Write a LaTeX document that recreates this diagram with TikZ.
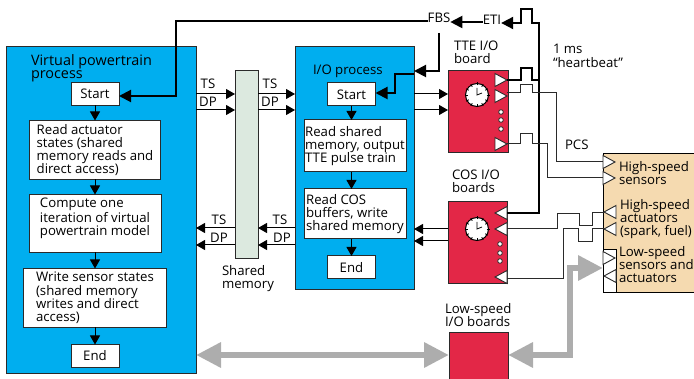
\documentclass[tikz,border=0pt]{standalone}
\usepackage{fontspec}
\setmainfont{Open Sans}
\usetikzlibrary{positioning,arrows.meta,shapes.geometric}
\definecolor{panelblue}{HTML}{00AEEF}
\definecolor{boardred}{HTML}{E32747}
\definecolor{tan}{HTML}{F5DAB0}
\definecolor{memgreen}{HTML}{DCE9DF}
\definecolor{busgray}{HTML}{ADADAD}
\definecolor{edge}{HTML}{2A2A2A}

\begin{document}
\begin{tikzpicture}[x=1pt,y=-1pt,font=\fontsize{13.2}{13.2}\selectfont,
panel/.style={rectangle, draw=edge, fill=panelblue, line width=0.9pt, inner sep=0pt, outer sep=0pt},
procbox/.style={rectangle, draw=edge, fill=white, line width=1pt, inner sep=0pt, outer sep=0pt, align=left},
endbox/.style={procbox, align=center, minimum height=23pt, minimum width=48pt},
board/.style={rectangle, draw=edge, fill=boardred, line width=0.9pt, inner sep=0pt, outer sep=0pt},
lbl/.style={inner sep=0pt, outer sep=0pt, align=left, anchor=north west},
tag/.style={inner sep=0pt, outer sep=0pt},
port/.style={isosceles triangle, isosceles triangle apex angle=60, isosceles triangle stretches, draw=edge, fill=white, line width=0.9pt, minimum height=12pt, minimum width=13pt, inner sep=0pt, outer sep=0pt},
portr/.style={port, shape border rotate=0},
portl/.style={port, shape border rotate=180},
arr/.style={-{Triangle[length=9pt,width=10pt]}, line width=1pt, draw=black},
thickarr/.style={-{Triangle[length=12pt,width=12pt]}, line width=2pt, draw=black},
wire/.style={line width=0.9pt, draw=edge},
thickwire/.style={line width=2pt, draw=black},
bus/.style={{Triangle[length=25pt,width=24pt]}-{Triangle[length=25pt,width=24pt]}, line width=6.5pt, draw=busgray},
clockface/.pic={
  \draw[draw=black, fill=white, line width=1pt] (0,0) circle (11.5);
  \foreach \a in {0,30,...,330} \draw[line width=0.8pt] (\a:9.5) -- (\a:12.5);
  \draw[line width=0.8pt] (0,-7) -- (0,0) -- (5,-2);
},
]
\useasboundingbox (0,0) rectangle (694,379);

%Levels of the TS and DP lines
\coordinate (tstop) at (0,94);
\coordinate (dptop) at (0,110);
\coordinate (tsbot) at (0,228);
\coordinate (dpbot) at (0,245);

%Panels
\node[panel, minimum width=190pt, minimum height=327pt] (vppanel) at (101,209.5) {};
\node[panel, minimum width=119pt, minimum height=243pt] (iopanel) at (354.5,167.5) {};
\node[rectangle, draw=edge, fill=memgreen, line width=1pt, inner sep=0pt, outer sep=0pt, minimum width=23pt, minimum height=188pt] (memory) at (246.5,165) {};
\node[rectangle, draw=black, fill=tan, line width=0.9pt, inner sep=0pt, outer sep=0pt, minimum width=92pt, minimum height=139pt, anchor=north west] (plant) at (603,153) {};
\node[rectangle, draw=black, fill=white, line width=0.9pt, inner sep=0pt, outer sep=0pt, minimum width=13pt, minimum height=43pt, anchor=north west] (lowstrip) at (603,249) {};

%Virtual powertrain process
\node[lbl, font=\fontsize{14.4}{13.4}\selectfont] (vptitle) at (31,54.5) {Virtual powertrain\\process};
\node[endbox] (vpstart) at (95,94) {Start};
\node[procbox, minimum width=131pt, minimum height=59pt] (readact) [below=15pt of vpstart] {Read actuator\\states (shared\\memory reads and\\direct access)};
\node[procbox, minimum width=132pt, minimum height=58pt] (compute) [below=15pt of readact] {Compute one\\iteration of virtual\\powertrain model\\~};
\node[procbox, minimum width=143pt, minimum height=59pt] (writesens) [below=16pt of compute] {Write sensor states\\(shared memory\\writes and direct\\access)};
\node[endbox] (vpend) [below=17pt of writesens] {End};

%I/O process
\node[lbl] (iotitle) at (313,64.5) {I/O process};
\node[endbox] (iostart) at (351.5,94.5) {Start};
\node[procbox, minimum width=102pt, minimum height=52pt, xshift=3.5pt] (readmem) [below=14pt of iostart] {Read shared\\memory, output\\TTE pulse train};
\node[procbox, minimum width=102pt, minimum height=50pt] (readcos) [below=17pt of readmem] {Read COS\\buffers, write\\shared memory};
\node[endbox, xshift=-3.5pt] (ioend) [below=17pt of readcos] {End};

%Boards
\node[board, minimum width=60pt, minimum height=82pt, anchor=north west] (tteboard) at (448,70) {};
\node[board, minimum width=59pt, minimum height=82pt, anchor=north west] (cosboard) at (448,201) {};
\node[board, minimum width=59pt, minimum height=47pt, anchor=north west] (lowboard) at (449,332) {};
\pic at (477,95) {clockface};
\pic at (477,229) {clockface};
\foreach \dy in {112,120,129} \draw[draw=edge, fill=white, line width=0.8pt] (501,\dy) circle (2.3);
\foreach \dy in {244,253,261} \draw[draw=edge, fill=white, line width=0.8pt] (500,\dy) circle (2.3);

%Ports
\node[portr, anchor=apex] (ttea) at (507,80) {};
\node[portr, anchor=apex] (tteb) at (507,96) {};
\node[portr, anchor=apex] (ttec) at (507,144) {};
\node[portl, anchor=apex] (cosa) at (495,213) {};
\node[portl, anchor=apex] (cosb) at (495,229) {};
\node[portl, anchor=apex] (cosc) at (495,277) {};
\node[portr, anchor=apex] (hssa) at (615,162) {};
\node[portr, anchor=apex] (hssb) at (615,178) {};
\node[portl, anchor=apex] (hsaa) at (604,212) {};
\node[portl, anchor=apex] (hsab) at (604,229) {};
\node[portr, anchor=apex] (lsa) at (615,258) {};
\node[portl, anchor=apex] (lsb) at (604,276) {};

%Labels
\node[tag] (fbs) at (439,18) {FBS};
\node[tag] (eti) at (492,20) {ETI};
\node[lbl] (ttelabel) at (454,41) {TTE I/O\\board};
\node[lbl] (coslabel) at (452,170) {COS I/O\\boards};
\node[lbl] (lowlabel) at (445,303) {Low-speed\\I/O boards};
\node[lbl] (beat) at (553,44.5) {1 ms\\“heartbeat”};
\node[lbl] (pcs) at (565,139.5) {PCS};
\node[lbl] (memlabel) at (222,265) {Shared\\memory};
\node[lbl] (hsslabel) at (619,161.5) {High-speed\\sensors};
\node[lbl] (hsalabel) at (620,199.5) {High-speed\\actuators\\(spark, fuel)};
\node[lbl] (lsalabel) at (619,246.5) {Low-speed\\sensors and\\actuators};
\foreach \tx/\ty/\tt in {208/84/TS,208/102/DP,270/84/TS,270/102/DP,219/220/TS,219/238/DP,280/220/TS,282/238/DP}
  \node[tag] at (\tx,\ty) {\tt};

%Lines
\draw[arr] (vpstart.south) -- (vpstart.south |- readact.north);
\draw[arr] (readact.south) -- (compute.north);
\draw[arr] (compute.south) -- (writesens.north);
\draw[arr] (writesens.south) -- (vpend.north);
\draw[arr] (iostart.south) -- (iostart.south |- readmem.north);
\draw[arr] (iostart.south |- readmem.south) -- (iostart.south |- readcos.north);
\draw[arr] (iostart.south |- readcos.south) -- (ioend.north);

\draw[arr] (vppanel.east |- tstop) -- (memory.west |- tstop);
\draw[arr] (vppanel.east |- dptop) -- (memory.west |- dptop);
\draw[arr] (memory.east |- tstop) -- (iopanel.west |- tstop);
\draw[arr] (memory.east |- dptop) -- (iopanel.west |- dptop);
\draw[arr] (memory.west |- tsbot) -- (vppanel.east |- tsbot);
\draw[arr] (memory.west |- dpbot) -- (vppanel.east |- dpbot);
\draw[arr] (iopanel.west |- tsbot) -- (memory.east |- tsbot);
\draw[arr] (iopanel.west |- dpbot) -- (memory.east |- dpbot);
\draw[arr] (iopanel.east |- tstop) -- (tteboard.west |- tstop);
\draw[arr] (iopanel.east |- dptop) -- (tteboard.west |- dptop);
\draw[arr] (cosboard.west |- 0,229) -- (iopanel.east |- 0,229);
\draw[arr] (cosboard.west |- 0,241) -- (iopanel.east |- 0,241);

\draw[thickarr] (fbs.west |- 0,21) -- (176,21) -- (176,96) -- (vpstart.east |- 0,96);
\draw[thickarr] (eti.west |- 0,22) -- (fbs.east |- 0,22);
\draw[thickarr] (439,33) -- (439,71) -- (iopanel.east |- 0,71);
\draw[thickarr] (iopanel.east |- 0,74) -- (395,74) -- (395,93) -- (iostart.east |- 0,93);
\draw[thickarr] (cosa.east) -| (539,23) -- (532,23) -- (532,9) -- (521,9) -- (521,23) -- (eti.east |- 0,23);
\draw[thickwire] (ttea.apex) -- (521,80) -- (521,68) -- (532,68) -- (532,80) -- (539,80);

\draw[wire] (tteb.apex |- 0,92) -- (520,92) -- (520,84) -- (532,84) -- (532,92) -- (556,92) -- (556,161) -- (hssa.west |- 0,161);
\draw[wire] (ttec.apex |- 0,143) -- (520,143) -- (520,133) -- (532,133) -- (532,143) -- (547,143) -- (547,177) -- (hssb.west |- 0,177);
\draw[wire] (cosb.east |- 0,228) -- (557,228) -- (557,213) -- (579,213) -- (579,225) -- (592,225) -- (592,212) -- (hsaa.apex);
\draw[wire] (cosc.east |- 0,278) -- (563,278) -- (563,228) -- (578,228) -- (578,241) -- (592,241) -- (592,228) -- (hsab.apex |- 0,228);

\draw[bus] (vppanel.east |- 0,355) -- (lowboard.west |- 0,355);
\draw[bus] (lowboard.east |- 0,355) -- (570,355) -- (570,268) -- (plant.west |- 0,268);

\end{tikzpicture}
\end{document}
